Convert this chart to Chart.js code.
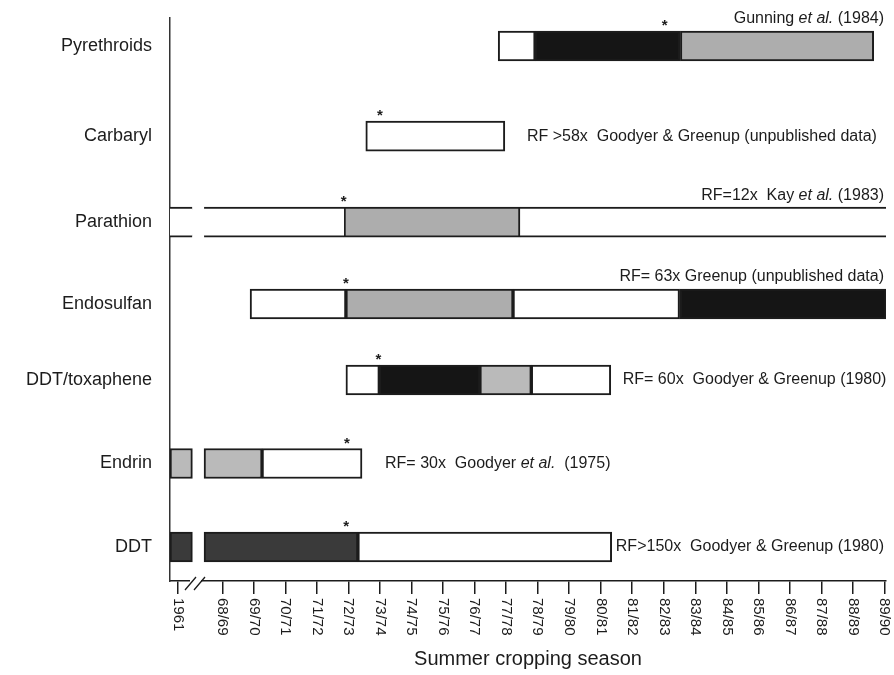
<!DOCTYPE html>
<html>
<head>
<meta charset="utf-8">
<script src="https://cdn.jsdelivr.net/npm/chart.js@4"></script>
<style>
  html, body { margin: 0; padding: 0; background: #fff; }
  #wrap { width: 894px; height: 675px; position: relative; }
</style>
</head>
<body>
<div id="wrap"><canvas id="chart"></canvas></div>
<script>
// insecticides, top to bottom
const categories = ['Pyrethroids', 'Carbaryl', 'Parathion', 'Endosulfan', 'DDT/toxaphene', 'Endrin', 'DDT'];

// x ticks: season start year, 1961 sits before the axis break
const seasonValues = [66.6, 68, 69, 70, 71, 72, 73, 74, 75, 76, 77, 78, 79, 80, 81, 82, 83, 84, 85, 86, 87, 88, 89];
const seasonLabels = ['1961', '68/69', '69/70', '70/71', '71/72', '72/73', '73/74', '74/75', '75/76', '76/77',
  '77/78', '78/79', '79/80', '80/81', '81/82', '82/83', '83/84', '84/85', '85/86', '86/87', '87/88', '88/89', '89/90'];

// bar pieces [from, to] in seasons + the shading of each piece
const pyrethroidSegments = [[76.75, 77.92], [77.92, 82.53], [82.53, 88.66]];
const pyrethroidShades = ['white', 'black', 'grey'];
const carbarylSegments = [[72.55, 76.96]];
const carbarylShades = ['white'];
const parathionSegments = [[66.34, 67.05], [67.42, 71.86], [71.86, 77.44], [77.44, 89.05]];
const parathionShades = ['open', 'open', 'grey', 'open'];
const endosulfanSegments = [[68.88, 71.92], [71.92, 77.22], [77.22, 82.5], [82.5, 89.05]];
const endosulfanShades = ['white', 'grey', 'white', 'black'];
const ddtToxSegments = [[71.92, 72.98], [72.98, 76.17], [76.17, 77.8], [77.8, 80.32]];
const ddtToxShades = ['white', 'black', 'stipple', 'white'];
const endrinSegments = [[66.34, 67.05], [67.42, 69.26], [69.26, 72.43]];
const endrinShades = ['stipple', 'stipple', 'white'];
const ddtSegments = [[66.34, 67.05], [67.42, 72.3], [72.3, 80.35]];
const ddtShades = ['dark', 'dark', 'white'];

// season of first resistance (the * marks)
const resistanceFound = [82.03, 73.0, 71.85, 71.92, 72.95, 71.95, 71.93];

// resistance factor notes, [text, italic]
const notes = [
  [['Gunning ', false], ['et al.', true], [' (1984)', false]],
  [['RF >58x  Goodyer & Greenup (unpublished data)', false]],
  [['RF=12x  Kay ', false], ['et al.', true], [' (1983)', false]],
  [['RF= 63x Greenup (unpublished data)', false]],
  [['RF= 60x  Goodyer & Greenup (1980)', false]],
  [['RF= 30x  Goodyer ', false], ['et al.', true], ['  (1975)', false]],
  [['RF>150x  Goodyer & Greenup (1980)', false]]
];

// layout: rows in the original figure are not evenly spaced
const rowY = [0, 1.08, 2.11, 3.09, 4.0, 5.0, 6.0];
// where the note text starts (season units); null = right aligned above the bar
const noteStart = [null, 77.66, null, null, 80.7, 73.16, 80.48];

const allSegments = [pyrethroidSegments, carbarylSegments, parathionSegments, endosulfanSegments,
  ddtToxSegments, endrinSegments, ddtSegments];
const allShades = [pyrethroidShades, carbarylShades, parathionShades, endosulfanShades,
  ddtToxShades, endrinShades, ddtShades];

const shadeColor = {
  white: '#ffffff', open: '#ffffff', black: '#151515', grey: '#adadad', stipple: '#bababa', dark: '#3a3a3a'
};

const FONT = '"Liberation Sans", Arial, Helvetica, sans-serif';
const INK = '#1c1c1c';

const datasets = [];
allSegments.forEach((segs, row) => {
  segs.forEach((seg, k) => {
    const shade = allShades[row][k];
    datasets.push({
      data: [{ x: seg, y: rowY[row] }],
      backgroundColor: shadeColor[shade],
      borderColor: INK,
      borderWidth: shade === 'open' ? { top: 2, bottom: 2, left: 0, right: 0 } : 2,
      borderSkipped: false,
      barThickness: 30,
      grouped: false
    });
  });
});

const decorations = {
  id: 'decorations',
  afterDraw(chart) {
    const ctx = chart.ctx;
    const xs = chart.scales.x;
    const ys = chart.scales.y;
    const area = chart.chartArea;

    // rotated season labels (read top to bottom)
    ctx.save();
    ctx.fillStyle = INK;
    ctx.font = '15px ' + FONT;
    seasonValues.forEach((v, i) => {
      ctx.save();
      ctx.translate(xs.getPixelForValue(v), area.bottom + 17);
      ctx.rotate(Math.PI / 2);
      ctx.textAlign = 'left';
      ctx.textBaseline = 'middle';
      ctx.fillText(seasonLabels[i], 0, 0);
      ctx.restore();
    });

    // axis break
    ctx.fillStyle = '#fff';
    ctx.fillRect(190, area.bottom - 2, 11, 4);
    ctx.strokeStyle = INK;
    ctx.lineWidth = 1.3;
    ctx.beginPath();
    ctx.moveTo(185, area.bottom + 9); ctx.lineTo(196, area.bottom - 4);
    ctx.moveTo(194, area.bottom + 9); ctx.lineTo(205, area.bottom - 4);
    ctx.stroke();

    // stars
    ctx.fillStyle = INK;
    ctx.font = 'bold 15px ' + FONT;
    ctx.textAlign = 'center';
    ctx.textBaseline = 'alphabetic';
    resistanceFound.forEach((v, row) => {
      const top = ys.getPixelForValue(rowY[row]) - 15;
      ctx.fillText('*', xs.getPixelForValue(v), top - 1);
    });

    // notes
    ctx.textBaseline = 'middle';
    ctx.textAlign = 'left';
    notes.forEach((parts, row) => {
      const fontOf = it => (it ? 'italic ' : '') + '16px ' + FONT;
      let width = 0;
      parts.forEach(p => { ctx.font = fontOf(p[1]); width += ctx.measureText(p[0]).width; });
      const yc = ys.getPixelForValue(rowY[row]);
      let x, y;
      if (noteStart[row] === null) {
        x = area.right - 2 - width;
        y = yc - 27;
      } else {
        x = xs.getPixelForValue(noteStart[row]);
        y = yc;
      }
      parts.forEach(p => {
        ctx.font = fontOf(p[1]);
        ctx.fillText(p[0], x, y);
        x += ctx.measureText(p[0]).width;
      });
    });
    ctx.restore();
  }
};

new Chart(document.getElementById('chart'), {
  type: 'bar',
  data: { datasets },
  options: {
    indexAxis: 'y',
    responsive: true,
    maintainAspectRatio: false,
    animation: false,
    layout: { padding: { left: 0, right: 8, top: 18, bottom: 0 } },
    plugins: { legend: { display: false }, tooltip: { enabled: false } },
    scales: {
      x: {
        type: 'linear',
        min: 66.34,
        max: 89.05,
        afterBuildTicks: s => { s.ticks = seasonValues.map(v => ({ value: v })); },
        ticks: { display: false },
        grid: { drawOnChartArea: false, drawTicks: true, tickLength: 13, color: INK, lineWidth: 1.5 },
        border: { display: true, color: INK, width: 1.5 },
        title: {
          display: true, text: 'Summer cropping season', color: INK,
          font: { family: FONT, size: 20 }, padding: { top: 0, bottom: 4 }
        },
        afterFit: s => { s.height = 94; s.paddingLeft = 0; s.paddingRight = 0; }
      },
      y: {
        type: 'linear',
        reverse: true,
        offset: false,
        min: -0.335,
        max: 6.407,
        afterBuildTicks: s => { s.ticks = rowY.map(v => ({ value: v })); },
        ticks: {
          callback: (v, i) => categories[i],
          color: INK,
          font: { family: FONT, size: 18 },
          padding: 18
        },
        grid: { display: false, drawTicks: false },
        border: { display: true, color: '#333', width: 1.5 },
        afterFit: s => { s.width = 170; s.paddingTop = 0; s.paddingBottom = 0; }
      }
    }
  },
  plugins: [decorations]
});
</script>
</body>
</html>
